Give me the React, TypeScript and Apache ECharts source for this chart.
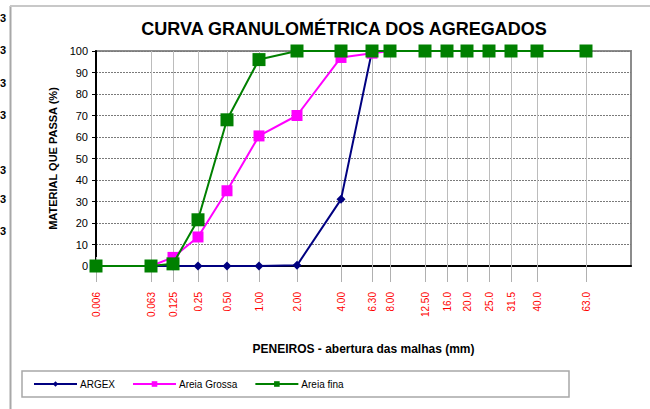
import React, { useEffect, useRef } from "react";
import * as echarts from "echarts";

// Sieve openings (mm) and their place on the chart's non-linear sieve scale
const sieveLabels = ["0.006", "0.063", "0.125", "0.25", "0.50", "1.00", "2.00", "4.00", "6.30", "8.00", "12.50", "16.0", "20.0", "25.0", "31.5", "40.0", "63.0"];
const sieveScale = [0, 55, 77, 102, 131, 163, 201, 245, 276, 294, 329, 351, 371, 393, 415, 441, 490];

// % passing
const argex = [0, 0, 0, 0, 0, 0, 0.3, 31, 100, 100, 100, 100, 100, 100, 100, 100, 100];
const areiaGrossa = [0, 0, 4, 13.5, 35, 60.5, 70, 97, 99, 100, 100, 100, 100, 100, 100, 100, 100];
const areiaFina = [0, 0, 1, 21.5, 68, 96, 100, 100, 100, 100, 100, 100, 100, 100, 100, 100, 100];

const seriesNames = ["ARGEX", "Areia Grossa", "Areia fina"];
const stray = ["3", "3", "3", "3", "3", "3", "3"];
const strayY = [18, 50, 83, 115, 170, 199, 231];

const FONT = "'Liberation Sans', Arial, sans-serif";

export default function App() {
  const ref = useRef<HTMLDivElement>(null);
  useEffect(() => {
    if (!ref.current) return;
    const chart = echarts.init(ref.current, null, { renderer: "svg" });
    const pts = (arr: number[]) => arr.map((v, i) => [sieveScale[i], v]);
    chart.setOption({
      animation: false,
      backgroundColor: "#fff",
      textStyle: { fontFamily: FONT },
      title: {
        text: "CURVA GRANULOMÉTRICA DOS AGREGADOS",
        left: 339,
        top: 15,
        textAlign: "center",
        textStyle: { fontFamily: FONT, fontSize: 18, fontWeight: "bold", color: "#000" },
      },
      grid: {
        left: 96,
        right: 19,
        top: 51,
        bottom: 143,
        show: true,
        borderColor: "#8c8c8c",
        borderWidth: 2,
        backgroundColor: "transparent",
      },
      legend: {
        left: 33,
        top: 379,
        padding: 0,
        itemWidth: 43,
        itemHeight: 7,
        itemGap: 17,
        z: 20,
        data: seriesNames,
        textStyle: { fontFamily: FONT, fontSize: 10, color: "#000", padding: [0, 0, 0, -2] },
      },
      xAxis: [
        {
          type: "value",
          min: 0,
          max: 535,
          name: "PENEIROS - abertura das malhas (mm)",
          nameLocation: "middle",
          nameGap: 77,
          nameTextStyle: { fontFamily: FONT, fontSize: 12, fontWeight: "bold", color: "#000" },
          axisLine: { show: true, onZero: false, lineStyle: { color: "#000", width: 2 } },
          axisTick: { show: true, customValues: sieveScale, length: 16, lineStyle: { color: "#b0b0b0", width: 1 } },
          axisLabel: {
            customValues: sieveScale,
            rotate: 90,
            margin: 26,
            fontSize: 10,
            color: "#ff0000",
            fontFamily: FONT,
            formatter: (v: number) => {
              const i = sieveScale.indexOf(v);
              return i >= 0 ? sieveLabels[i] : "";
            },
          },
          splitLine: { show: true, lineStyle: { color: "#bcbcbc", width: 1 } },
        },
        {
          type: "value",
          position: "top",
          min: 0,
          max: 535,
          axisLine: { show: false },
          axisTick: { show: true, customValues: sieveScale, length: 9, lineStyle: { color: "#bcbcbc", width: 1 } },
          axisLabel: { show: false, customValues: sieveScale },
          splitLine: { show: false },
        },
      ],
      yAxis: {
        type: "value",
        min: 0,
        max: 100,
        interval: 10,
        name: "MATERIAL QUE PASSA (%)",
        nameLocation: "middle",
        nameGap: 38,
        nameTextStyle: { fontFamily: FONT, fontSize: 11, fontWeight: "bold", color: "#000" },
        axisLine: { show: true, lineStyle: { color: "#000", width: 2 } },
        axisTick: { show: true, length: 4, lineStyle: { color: "#000" } },
        axisLabel: { fontSize: 11, color: "#000", margin: 8, fontFamily: FONT },
        splitLine: { show: true, lineStyle: { color: "#7a7a7a", width: 1, type: [2, 1] } },
      },
      graphic: [
        { type: "line", shape: { x1: 10.5, y1: 6, x2: 10.5, y2: 409 }, style: { stroke: "#a8a8a8", lineWidth: 2 }, z: 1 },
        { type: "line", shape: { x1: 10, y1: 6, x2: 650, y2: 6 }, style: { stroke: "#c8c8c8", lineWidth: 2 }, z: 1 },
        { type: "rect", shape: { x: 22, y: 371, width: 547, height: 26 }, style: { fill: "#fff", stroke: "#a8a8a8", lineWidth: 1.5 }, z: 1 },
        ...stray.map((t, i) => ({
          type: "text",
          x: 0,
          y: strayY[i],
          style: { text: t, fontFamily: FONT, fontSize: 11, fontWeight: "bold", fill: "#000", textVerticalAlign: "middle" },
          z: 1,
        })),
      ],
      series: [
        {
          name: seriesNames[0],
          type: "line",
          data: pts(argex),
          symbol: "diamond",
          symbolSize: 9,
          showAllSymbol: true,
          itemStyle: { color: "#000080" },
          lineStyle: { color: "#000080", width: 2 },
          z: 3,
        },
        {
          name: seriesNames[1],
          type: "line",
          data: pts(areiaGrossa),
          symbol: "rect",
          symbolSize: 11,
          showAllSymbol: true,
          itemStyle: { color: "#ff00ff" },
          lineStyle: { color: "#ff00ff", width: 2 },
          z: 4,
        },
        {
          name: seriesNames[2],
          type: "line",
          data: pts(areiaFina),
          symbol: "rect",
          symbolSize: 13,
          showAllSymbol: true,
          itemStyle: { color: "#008000" },
          lineStyle: { color: "#008000", width: 2 },
          z: 5,
        },
      ],
    });
    return () => chart.dispose();
  }, []);
  return <div ref={ref} style={{ position: "fixed", left: 0, top: 0, width: 650, height: 409 }} />;
}
